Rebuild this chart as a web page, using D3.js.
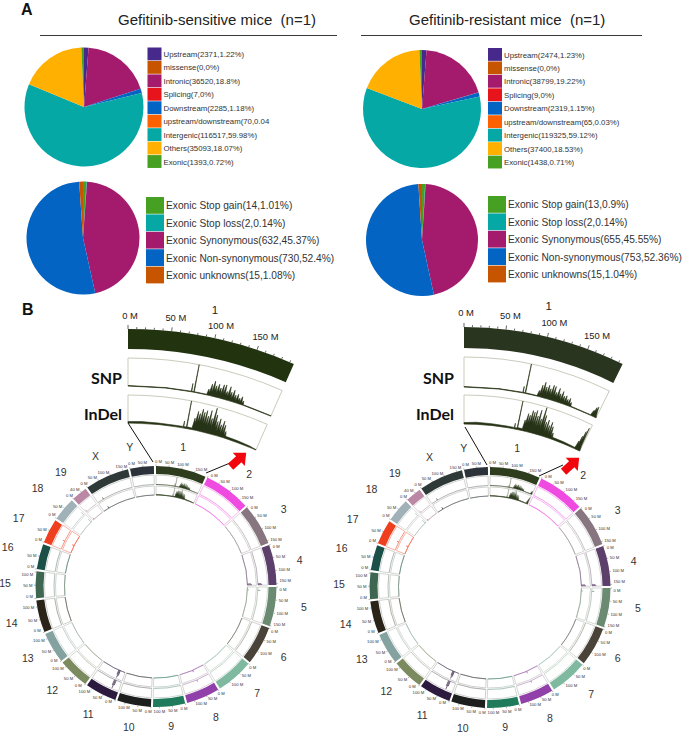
<!DOCTYPE html>
<html><head><meta charset="utf-8">
<script src="https://cdn.jsdelivr.net/npm/d3@7/dist/d3.min.js"></script>
<style>html,body{margin:0;padding:0;background:#fff}svg{display:block}text{font-family:"Liberation Sans",Arial,sans-serif}</style>
</head><body><svg id="c" width="685" height="736"></svg>
<script>
// ---------- DATA ----------
const regionLabels = ["Upstream","missense","Intronic","Splicing","Downstream","upstream/downstream","Intergenic","Others","Exonic"];
const regionSensitive = [2371,0,36520,7,2285,70,116517,35093,1393];
const regionResistant = [2474,0,38799,9,2319,65,119325,37400,1438];
const regionTextSensitive = ["Upstream(2371,1.22%)","missense(0,0%)","Intronic(36520,18.8%)","Splicing(7,0%)","Downstream(2285,1.18%)","upstream/downstream(70,0.04","Intergenic(116517,59.98%)","Others(35093,18.07%)","Exonic(1393,0.72%)"];
const regionTextResistant = ["Upstream(2474,1.23%)","missense(0,0%)","Intronic(38799,19.22%)","Splicing(9,0%)","Downstream(2319,1.15%)","upstream/downstream(65,0.03%)","Intergenic(119325,59.12%)","Others(37400,18.53%)","Exonic(1438,0.71%)"];
const regionColors = ["#46298a","#c75500","#a41b6e","#e8141c","#0364c4","#ff6000","#05a8a5","#ffb000","#46a021"];

const exonicSensitive = [14,2,632,730,15];
const exonicResistant = [13,2,655,753,15];
const exonicTextSensitive = ["Exonic Stop gain(14,1.01%)","Exonic Stop loss(2,0.14%)","Exonic Synonymous(632,45.37%)","Exonic Non-synonymous(730,52.4%)","Exonic unknowns(15,1.08%)"];
const exonicTextResistant = ["Exonic Stop gain(13,0.9%)","Exonic Stop loss(2,0.14%)","Exonic Synonymous(655,45.55%)","Exonic Non-synonymous(753,52.36%)","Exonic unknowns(15,1.04%)"];
const exonicColors = ["#46a021","#05a8a5","#a41b6e","#0364c4","#c75500"];

const chromNames = ["1","2","3","4","5","6","7","8","9","10","11","12","13","14","15","16","17","18","19","X","Y"];
const chromSizes = [195,182,160,156,152,150,145,129,124,131,122,120,120,125,104,98,95,91,61,171,92];
const chromColors = ["#2e3d1e","#f04be0","#87757f","#5d3f6b","#6b8a72","#4a433a","#7fb9a0","#9040a8","#207a5c","#1c1f1e","#2d1a3f","#7c8a60","#84a3a0","#2a2418","#3f6650","#1a5048","#ee4020","#a0b2b8","#ba88a5","#2f3a38","#2c323a"];

// chromosome 1 density: [position in Mb, fraction of track height]
const snpSensitive = [[0,.015],[50,.015],[84.2,.02],[84.6,.3],[85,.02],[87.6,.02],[88,1],[88.4,.02],[105,.02],[106.5,.22],[108,.1],[109.5,.42],[111,.14],[112.5,.55],[114,.2],[115.5,.4],[117,.15],[118.5,.48],[120,.2],[121.5,.36],[123,.16],[124.5,.5],[126,.18],[127.5,.52],[129,.16],[130.5,.3],[132,.14],[133.5,.5],[135,.18],[136.5,.32],[138,.1],[139.5,.42],[141,.12],[142.5,.26],[144,.08],[145.5,.32],[147,.1],[148.5,.2],[150,.08],[151.5,.28],[153,.06],[154.5,.15],[155.5,.02],[195,.015]];
const indelSensitive = [[0,.05],[20,.06],[45,.05],[70,.045],[82,.05],[82.4,.25],[82.8,.05],[86.6,.05],[87,1],[87.4,.06],[95,.05],[96.5,.42],[98,.25],[99.5,.68],[101,.3],[102.5,.62],[104,.32],[105.5,.8],[107,.35],[108.5,.7],[110,.3],[111.5,.78],[113,.28],[114.5,.6],[116,.25],[117.5,.82],[119,.3],[120.5,.55],[122,.25],[123.5,.95],[125,.35],[126.5,.72],[128,.25],[129.5,.5],[131,.15],[132.5,.62],[134,.2],[135.5,.42],[137,.12],[138.5,.58],[140,.15],[141.5,.45],[143,.1],[144.5,.24],[146,.07],[165,.06],[185,.04],[190,.02],[195,.01]];
const snpResistant = [[0,.015],[50,.015],[84.2,.02],[84.6,.22],[85,.02],[87.6,.02],[88,1],[88.4,.02],[105,.02],[106.5,.2],[108,.1],[109.5,.4],[111,.14],[112.5,.52],[114,.2],[115.5,.38],[117,.15],[118.5,.46],[120,.2],[121.5,.36],[123,.14],[124.5,.5],[126,.18],[127.5,.48],[129,.16],[130.5,.3],[132,.14],[133.5,.46],[135,.18],[136.5,.3],[138,.1],[139.5,.4],[141,.12],[142.5,.26],[144,.08],[145.5,.3],[147,.1],[148.5,.2],[150,.08],[151.5,.26],[153,.06],[154.5,.14],[155.5,.02],[186,.015],[187,.12],[188,.2],[189,.16],[190,.32],[191,.22],[192,.36],[193,.2],[194,.08],[195,.015]];
const indelResistant = [[0,.05],[20,.07],[45,.06],[70,.05],[82,.05],[82.4,.2],[82.8,.05],[86.6,.05],[87,1],[87.4,.07],[95,.06],[96.5,.38],[98,.25],[99.5,.62],[101,.3],[102.5,.58],[104,.32],[105.5,.76],[107,.35],[108.5,.72],[110,.3],[111.5,.8],[113,.28],[114.5,.62],[116,.25],[117.5,.85],[119,.3],[120.5,.55],[122,.25],[123.5,.98],[125,.35],[126.5,.72],[128,.25],[129.5,.5],[131,.15],[132.5,.6],[134,.2],[135.5,.42],[137,.12],[138.5,.56],[140,.15],[141.5,.42],[143,.1],[144.5,.22],[146,.07],[165,.06],[185,.04],[186,.1],[187,.3],[188,.18],[189,.5],[190,.3],[191,.7],[192,.45],[193,.85],[194,.2],[195,.02]];

// isolated peaks on other chromosomes (small circles)
const peakChrom = [10,10,10,3,3,4,19,18,17,7,16];
const peakPos   = [26,30,34,149,153,15,30,6,84,60,40];
const peakSnp   = [.55,.9,.6,.35,.45,.25,.2,.25,.35,.18,.2];
const peakIndel = [.6,.85,.5,.4,.5,.15,.25,.2,.45,.22,.25];

const sectorTicks = [0,50,100,150];
const sectorLabels = ["0 M","50 M","100 M","150 M"];
const titles = ["Gefitinib-sensitive mice  (n=1)","Gefitinib-resistant mice  (n=1)"];

// ---------- LAYOUT ----------
const labelDx = [-4,5,1,-2,2,-1,4,2,-1,0,0,-2,-1,-1,-3,-5,-6,-5,-1,0,-9];
const labelDy = [4,5,-2,0,-4,-1,-3,-3,-5,-3,-2,-2,-2,1,-1,-3,-1,-4,-1,3,6];
const panels = [
 {title:titles[0],tx:118,ruleX:[40,337],
  p1:{x:84,y:107,r:59.5},p2:{x:83,y:238,r:56.5},
  leg1:{x:147.5,y:47.5},leg2:{x:146,y:197},
  reg:regionSensitive,regText:regionTextSensitive,exo:exonicSensitive,exoText:exonicTextSensitive,
  ring:{x:156,y:586.5},
  sec:{x:128,y:740,R:411,band:20,snp:[354,382],indel:[317,345],end:23.8,color:"#223310",labelX:122,labelDr:10,titleDr:28},
  snp:snpSensitive,indel:indelSensitive,
  guideA:[[128,423],[153,462]],guideB:[[206,473],[230,463]],arrow:{x:238,y:460},
 },
 {title:titles[1],tx:409,ruleX:[361,642],
  p1:{x:422,y:109,r:59},p2:{x:422,y:240,r:56},
  leg1:{x:488,y:48},leg2:{x:488,y:196},
  reg:regionResistant,regText:regionTextResistant,exo:exonicResistant,exoText:exonicTextResistant,
  ring:{x:490,y:587.5},
  sec:{x:464,y:685,R:358,band:21,snp:[298,328],indel:[261,290],end:26.3,color:"#2a3520",labelX:454,labelDr:11,titleDr:30},
  snp:snpResistant,indel:indelResistant,
  guideA:[[465,427],[487,465]],guideB:[[539,476],[563,465]],arrow:{x:571,y:465},
 }
];
const svg = d3.select("#c");
const rad = d=>d*Math.PI/180;
svg.append("text").attr("x",21).attr("y",14.5).attr("font-size",16).attr("font-weight",700).attr("fill","#111").text("A");
svg.append("text").attr("x",22).attr("y",315).attr("font-size",16).attr("font-weight",700).attr("fill","#111").text("B");

function drawPie(p,vals,colors){
  const pie = d3.pie().sort(null).value(d=>d);
  const arc = d3.arc().innerRadius(0).outerRadius(p.r);
  svg.append("g").attr("transform",`translate(${p.x},${p.y})`).selectAll("path").data(pie(vals)).join("path")
    .attr("d",arc).attr("fill",(d,i)=>colors[i]);
}
function drawLegend(l,labels,colors,sw,h,fs){
  const g = svg.append("g").attr("transform",`translate(${l.x},${l.y})`);
  const y = d3.scaleBand().domain(d3.range(labels.length)).range([0,h*labels.length]);
  g.selectAll("rect").data(labels).join("rect").attr("x",0).attr("y",(d,i)=>y(i)).attr("width",sw).attr("height",y.bandwidth()-.6).attr("fill",(d,i)=>colors[i]);
  g.selectAll("text").data(labels).join("text").attr("x",sw+2).attr("y",(d,i)=>y(i)+h/2+fs*.36).attr("font-size",fs).attr("fill","#333").text(d=>d);
}

function drawRing(c,snpData,indelData){
  const g = svg.append("g").attr("transform",`translate(${c.x},${c.y})`);
  const total = d3.sum(chromSizes), gap = 1.0;
  const perMb = (360-gap*chromSizes.length)/total;
  let cur = 0;
  const chroms = chromSizes.map((s,i)=>{const a0=cur; cur+=s*perMb+gap; return {i,s,a0,a1:a0+s*perMb,scale:d3.scaleLinear().domain([0,s]).range([rad(a0),rad(a0+s*perMb)])};});
  const rBand=[112.5,120.5], rS=[102,111.5], rI=[91.5,100.5];
  const arc = (r0,r1,a0,a1)=>d3.arc()({innerRadius:r0,outerRadius:r1,startAngle:rad(a0),endAngle:rad(a1)});
  chroms.forEach(ch=>{
    const col = chromColors[ch.i];
    const hot = ch.i===1||ch.i===16;
    const frame = hot ? d3.interpolateRgb(col,"#fff")(.55) : d3.interpolateRgb(d3.interpolateRgb(col,"#9a9e92")(.75),"#fff")(.6);
    g.append("path").attr("d",arc(rBand[0],rBand[1],ch.a0,ch.a1)).attr("fill",col);
    [rS,rI].forEach(t=>g.append("path").attr("d",arc(t[0],t[1],ch.a0,ch.a1)).attr("fill","#fff").attr("stroke",frame).attr("stroke-width",.9));
    [[rS,.2,.5],[rI,.4,.75]].forEach(([t,w,op])=>g.append("path").attr("d",d3.arc()({innerRadius:t[0],outerRadius:t[0],startAngle:rad(ch.a0),endAngle:rad(ch.a1)})).attr("fill","none").attr("stroke",col).attr("stroke-width",w).attr("stroke-opacity",op));
    // ticks and labels
    const ticks = d3.range(0,ch.s,ch.i===18?40:50);
    ticks.forEach(t=>{
      const a = ch.scale(t);
      const nudge = t===0 ? rad(1.1) : (ch.s-t<8 ? -rad(1.1) : 0);
      const sx=Math.sin(a), cx=-Math.cos(a), lx=Math.sin(a+nudge), ly=-Math.cos(a+nudge);
      g.append("line").attr("x1",sx*120.5).attr("y1",cx*120.5).attr("x2",sx*122).attr("y2",cx*122).attr("stroke","#444").attr("stroke-width",.4);
      const anchor = lx>.3?"start":lx<-.3?"end":"middle";
      const r = anchor==="middle"?125:123.5;
      g.append("text").attr("x",lx*r).attr("y",ly*r+1.5).attr("text-anchor",anchor).attr("font-size",4.2).attr("fill","#333").text(t+" M");
    });
    const mid = (ch.a0+ch.a1)/2, am=rad(mid);
    g.append("text").attr("x",Math.sin(am)*148+labelDx[ch.i]).attr("y",-Math.cos(am)*146+3.5+labelDy[ch.i]).attr("text-anchor","middle").attr("font-size",10.5).attr("fill","#333").text(chromNames[ch.i]);
  });
  // chromosome 1 density in both tracks
  const area = (data,t)=>{
    const rr = d3.scaleLinear().domain([0,1]).range(t);
    return d3.areaRadial().angle(d=>chroms[0].scale(d[0])).innerRadius(t[0]).outerRadius(d=>rr(d[1]))(data);
  };
  g.append("path").attr("d",area(snpData,rS)).attr("fill",chromColors[0]).attr("stroke",chromColors[0]).attr("stroke-width",.2);
  g.append("path").attr("d",area(indelData,rI)).attr("fill",chromColors[0]).attr("stroke",chromColors[0]).attr("stroke-width",.2);
  // isolated peaks
  peakChrom.forEach((ci,k)=>{
    const a = chroms[ci].scale(peakPos[k]), sx=Math.sin(a), cx=-Math.cos(a);
    [[rS,peakSnp[k]],[rI,peakIndel[k]]].forEach(([t,v])=>{
      const rr = d3.scaleLinear().domain([0,1]).range(t);
      g.append("line").attr("x1",sx*t[0]).attr("y1",cx*t[0]).attr("x2",sx*rr(v)).attr("y2",cx*rr(v)).attr("stroke",chromColors[ci]).attr("stroke-width",.7);
    });
  });
}

function drawSector(s,snpData,indelData){
  const g = svg.append("g").attr("transform",`translate(${s.x},${s.y})`);
  const a = d3.scaleLinear().domain([0,chromSizes[0]]).range([0,rad(s.end)]);
  const arcOf=(r0,r1)=>d3.arc()({innerRadius:r0,outerRadius:r1,startAngle:0,endAngle:rad(s.end)});
  g.append("path").attr("d",arcOf(s.R-s.band,s.R)).attr("fill",s.color);
  [s.snp,s.indel].forEach(t=>g.append("path").attr("d",arcOf(t[0],t[1])).attr("fill","#fff").attr("stroke","#c9ccbc").attr("stroke-width",1));
  // ticks
  d3.range(0,chromSizes[0],10).forEach(t=>{
    const major=t%50===0, ang=a(t), sx=Math.sin(ang), cx=-Math.cos(ang), L=major?4:2;
    g.append("line").attr("x1",sx*s.R).attr("y1",cx*s.R).attr("x2",sx*(s.R+L)).attr("y2",cx*(s.R+L)).attr("stroke","#222").attr("stroke-width",.7);
  });
  sectorTicks.forEach((t,i)=>{
    const ang=a(t), r=s.R+s.labelDr;
    g.append("text").attr("x",Math.sin(ang)*r+2+ang*10).attr("y",-Math.cos(ang)*r).attr("text-anchor","middle").attr("font-size",9.4).attr("fill","#222").text(sectorLabels[i]);
  });
  const am=rad(s.end)/2*.96, rt=s.R+s.titleDr;
  g.append("text").attr("x",Math.sin(am)*rt).attr("y",-Math.cos(am)*rt+4).attr("text-anchor","middle").attr("font-size",11.5).attr("fill","#222").text("1");
  [[s.snp,snpData],[s.indel,indelData]].forEach(([t,data])=>{
    const rr=d3.scaleLinear().domain([0,1]).range(t);
    g.append("path").attr("d",d3.areaRadial().angle(d=>a(d[0])).innerRadius(t[0]).outerRadius(d=>rr(d[1]))(data))
      .attr("fill","#263316").attr("stroke","#263316").attr("stroke-width",.6);
  });
  [["SNP",384],["InDel",420]].forEach(([txt,y])=>svg.append("text").attr("x",s.labelX).attr("y",y).attr("text-anchor","end")
     .style("font-family","Lato,sans-serif").attr("font-weight",700).attr("font-size",16).attr("fill","#111").text(txt));
}

panels.forEach(P=>{
  svg.append("text").attr("x",P.tx).attr("y",25).attr("font-size",15).attr("fill","#222").style("white-space","pre").text(P.title);
  svg.append("line").attr("x1",P.ruleX[0]).attr("x2",P.ruleX[1]).attr("y1",35.5).attr("y2",35.5).attr("stroke","#222").attr("stroke-width",.9);
  drawPie(P.p1,P.reg,regionColors);
  drawPie(P.p2,P.exo,exonicColors);
  drawLegend(P.leg1,P.regText,regionColors,14,13.45,7.8);
  drawLegend(P.leg2,P.exoText,exonicColors,18,17.4,10.2);
  drawSector(P.sec,P.snp,P.indel);
  drawRing(P.ring,P.snp,P.indel);
  [P.guideA,P.guideB].forEach(l=>svg.append("line").attr("x1",l[0][0]).attr("y1",l[0][1]).attr("x2",l[1][0]).attr("y2",l[1][1]).attr("stroke","#111").attr("stroke-width",1));
  svg.append("path").attr("transform",`translate(${P.arrow.x},${P.arrow.y}) rotate(-42)`).attr("d","M-10,-4L1,-4L1,-9L11,0L1,9L1,4L-10,4Z").attr("fill","#f0060c");
});
</script></body></html>
